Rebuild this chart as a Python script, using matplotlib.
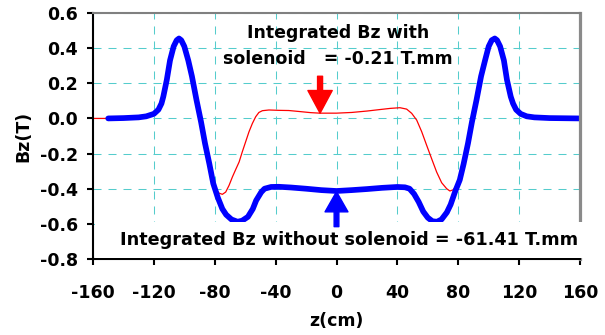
import matplotlib
matplotlib.use("Agg")
import matplotlib.pyplot as plt
from matplotlib.patches import Rectangle, FancyArrowPatch

# field without solenoid (thick blue)
z_blue = [-150, -140, -130, -125, -120, -117, -115, -113.8, -111.5, -109.4, -107, -105,
          -103.5, -102, -100, -97.4, -95, -92, -89, -86.4, -83.5, -81, -78, -75,
          -72.5, -69, -65, -62, -58.2, -55, -52.8, -49.5, -47.3, -43, -38, -30,
          -20, -10, 0, 10, 20, 30, 40, 45, 48, 51, 54, 57, 60, 63, 66, 69, 72.5,
          75, 78, 81, 83.5, 86.4, 89, 92, 95, 97.6, 100, 102, 104, 105.5, 107.5,
          110, 112, 114.5, 116, 118, 121, 125, 130, 140, 160]
bz_blue = [0.0, 0.002, 0.006, 0.012, 0.026, 0.05, 0.085, 0.124, 0.22, 0.33, 0.41, 0.445,
           0.455, 0.445, 0.41, 0.33, 0.24, 0.105, -0.02, -0.142, -0.26, -0.37, -0.45, -0.515,
           -0.548, -0.575, -0.588, -0.582, -0.56, -0.515, -0.467, -0.42, -0.40, -0.39, -0.389, -0.393,
           -0.40, -0.408, -0.413, -0.408, -0.402, -0.395, -0.39, -0.392, -0.40, -0.43, -0.475, -0.53,
           -0.565, -0.585, -0.588, -0.575, -0.535,
           -0.49, -0.415, -0.35, -0.26, -0.142, -0.02, 0.105, 0.24, 0.33, 0.41, 0.445, 0.455,
           0.445, 0.41, 0.33, 0.22, 0.124, 0.085, 0.05, 0.026, 0.012, 0.006, 0.002, 0.0]

# field with solenoid (thin red)
z_red = [-160, -150, -140, -130, -125, -120, -117, -115, -113.8, -111.5, -109.4, -107,
         -105, -103.5, -102, -100, -97.4, -95, -92, -89, -86.4, -83.5, -81, -79.3,
         -77.2, -75, -72.8, -70.6, -68.4, -66.2, -64, -61.9, -59.7, -57.5, -55.3, -53.1,
         -51, -48.7, -44.4, -37.8, -31.3, -24, -17, -11, 0, 10, 20, 28, 35.2, 41.7,
         46.1, 49.4, 52.7, 56, 59.2, 62.5, 65.8, 69.1, 72.4, 74.5, 76.7, 78.9, 80, 81,
         83.5, 86.4, 89, 92, 95, 97.6, 100, 102, 104, 105.5, 107.5, 110, 112,
         114.5, 116, 118, 121, 125, 130, 140, 160]
bz_red = [0.0, 0.0, 0.002, 0.006, 0.012, 0.026, 0.05, 0.085, 0.124, 0.22, 0.33, 0.41,
          0.445, 0.455, 0.445, 0.41, 0.33, 0.24, 0.105, -0.02, -0.142, -0.26, -0.37, -0.404,
          -0.425, -0.432, -0.419, -0.381, -0.333, -0.29, -0.248, -0.19, -0.133, -0.076, -0.029, 0.0095,
          0.034, 0.044, 0.048, 0.046, 0.045, 0.039, 0.033, 0.03, 0.03, 0.034, 0.042, 0.05, 0.057, 0.061,
          0.053, 0.029, -0.0095, -0.076, -0.152, -0.229, -0.305, -0.366, -0.40, -0.413, -0.406, -0.381,
          -0.366, -0.35,
          -0.26, -0.142, -0.02, 0.105, 0.24, 0.33, 0.41, 0.445, 0.455, 0.445, 0.41, 0.33, 0.22,
          0.124, 0.085, 0.05, 0.026, 0.012, 0.006, 0.002, 0.0]

x_ticks = [-160, -120, -80, -40, 0, 40, 80, 120, 160]
y_ticks = [-0.8, -0.6, -0.4, -0.2, 0.0, 0.2, 0.4, 0.6]

label_with = "Integrated Bz with\nsolenoid   = -0.21 T.mm"
label_without = "Integrated Bz without solenoid = -61.41 T.mm"

plt.rcParams["font.family"] = ["DejaVu Sans"]
plt.rcParams["font.weight"] = "bold"

fig = plt.figure(figsize=(6.05, 3.35), dpi=100)
ax = fig.add_axes([93 / 605, 76 / 335, 487 / 605, 246 / 335])

ax.plot(z_red, bz_red, color="#ff0000", lw=0.9, zorder=2)
ax.plot(z_blue, bz_blue, color="#0000ff", lw=4.1, zorder=2.2,
        solid_capstyle="round", solid_joinstyle="round")

ax.set_xlim(-160, 160)
ax.set_ylim(-0.8, 0.6)
ax.set_xticks(x_ticks)
ax.set_yticks(y_ticks)
ax.set_xticklabels([str(t) for t in x_ticks])
ax.set_yticklabels([f"{t:.1f}" for t in y_ticks])
ax.tick_params(axis="both", direction="out", length=4.3, width=1.5, labelsize=12.5)
ax.tick_params(axis="x", pad=14)
ax.tick_params(axis="y", pad=6.5)
for lab in ax.get_xticklabels() + ax.get_yticklabels():
    lab.set_fontweight("bold")

ax.grid(True, color="#55cccc", lw=0.75, ls=(0, (7.7, 6.7)))
ax.set_axisbelow(True)

for side in ["left", "bottom"]:
    ax.spines[side].set_color("black")
    ax.spines[side].set_linewidth(1.5)
ax.spines["top"].set_color("#808080")
ax.spines["top"].set_linewidth(1.5)
ax.spines["right"].set_color("#8a8a8a")
ax.spines["right"].set_linewidth(2.3)

ax.set_xlabel("z(cm)", fontsize=12.5, fontweight="bold")
ax.set_ylabel("Bz(T)", fontsize=12.5, fontweight="bold")
ax.xaxis.set_label_coords(0.5, -0.215)
ax.yaxis.set_label_coords(-0.125, 0.5)

# white text box at the bottom of the plot area
ax.add_patch(Rectangle((-158.5, -0.792), 325, 0.205, facecolor="white",
                       edgecolor="none", zorder=3, clip_on=False))
ax.text(8.5, -0.69, label_without, ha="center", va="center",
        fontsize=12.7, fontweight="bold", zorder=5)
ax.text(1, 0.412, label_with, ha="center", va="center", multialignment="center",
        fontsize=12.5, fontweight="bold", linespacing=1.55, zorder=5)

red_arrow = FancyArrowPatch((-10.8, 0.24), (-10.8, 0.03),
                            arrowstyle="simple,head_width=17.5,head_length=16.3,tail_width=3.6",
                            mutation_scale=1, color="#ff0000", shrinkA=0, shrinkB=0, zorder=5)
blue_arrow = FancyArrowPatch((0, -0.616), (0, -0.417),
                             arrowstyle="simple,head_width=16.5,head_length=14.5,tail_width=3.4",
                             mutation_scale=1, color="#0000ff", shrinkA=0, shrinkB=0, zorder=5)
ax.add_patch(red_arrow)
ax.add_patch(blue_arrow)

fig.savefig("out.png", dpi=100)
